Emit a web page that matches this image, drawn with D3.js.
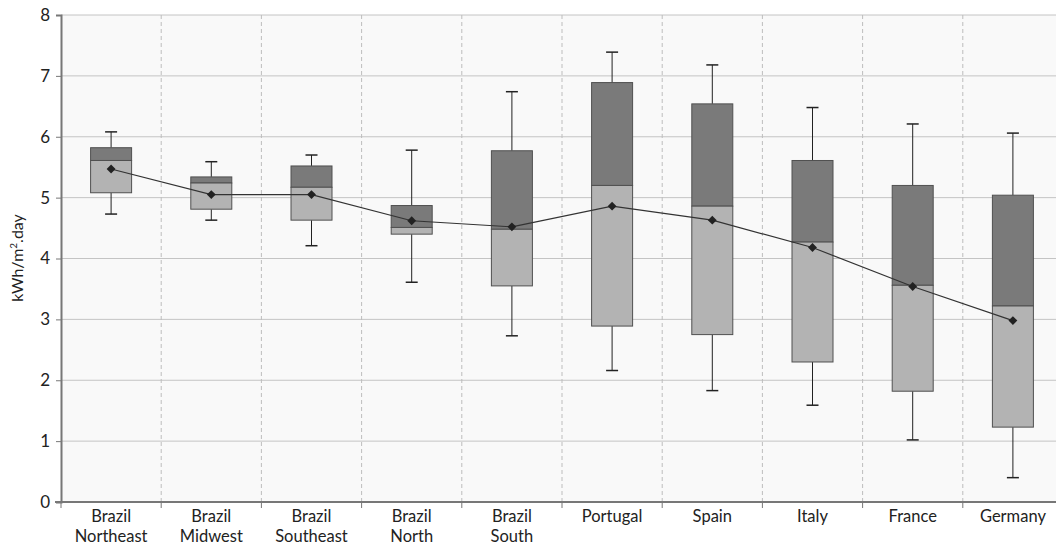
<!DOCTYPE html>
<html><head><meta charset="utf-8">
<script src="https://cdn.jsdelivr.net/npm/d3@7"></script>
<style>body{margin:0;background:#fff;}svg{display:block;font-family:Lato,"Open Sans",sans-serif;}</style>
</head><body><svg id="c" width="1056" height="546"></svg>
<script>
const categories = ["Brazil\nNortheast","Brazil\nMidwest","Brazil\nSoutheast","Brazil\nNorth","Brazil\nSouth","Portugal","Spain","Italy","France","Germany"];
const whiskerLow = [4.73,4.63,4.21,3.61,2.73,2.16,1.83,1.59,1.02,0.40];
const q1 = [5.08,4.81,4.63,4.40,3.55,2.89,2.75,2.30,1.82,1.23];
const median = [5.61,5.24,5.17,4.51,4.48,5.20,4.86,4.27,3.56,3.22];
const q3 = [5.82,5.34,5.52,4.87,5.77,6.89,6.54,5.61,5.20,5.04];
const whiskerHigh = [6.08,5.59,5.70,5.78,6.74,7.39,7.18,6.48,6.21,6.06];
const means = [5.47,5.05,5.05,4.62,4.52,4.86,4.63,4.18,3.54,2.98];
const yTicks = [0,1,2,3,4,5,6,7,8];

(function(){
const svg = d3.select("#c");
const pL = 61, pR = 1063, pT = 15, pB = 502;
const x = d3.scaleBand().domain(categories).range([pL, pR]).padding(0);
const y = d3.scaleLinear().domain([0, 8]).range([pB, pT]);
const bw = 41;

svg.append("rect").attr("x", pL).attr("y", pT).attr("width", 1056-pL).attr("height", pB-pT).attr("fill", "#f9f9f9");

svg.append("g").selectAll("line").data(yTicks.filter(d=>d>0)).join("line")
  .attr("x1", pL).attr("x2", 1056).attr("y1", d=>y(d)).attr("y2", d=>y(d))
  .attr("stroke", "#c4c4c4").attr("stroke-width", 1);
svg.append("g").selectAll("line").data(categories.slice(1)).join("line")
  .attr("x1", d=>x(d)).attr("x2", d=>x(d)).attr("y1", pT).attr("y2", pB)
  .attr("stroke", "#bdbdbd").attr("stroke-dasharray", "4,3").attr("stroke-width", 1);

const g = svg.append("g").selectAll("g").data(categories).join("g");
const cx = d => x(d) + x.bandwidth()/2;
g.append("line").attr("x1", cx).attr("x2", cx).attr("y1", (d,i)=>y(whiskerHigh[i])).attr("y2", (d,i)=>y(q3[i])).attr("stroke","#222");
g.append("line").attr("x1", cx).attr("x2", cx).attr("y1", (d,i)=>y(q1[i])).attr("y2", (d,i)=>y(whiskerLow[i])).attr("stroke","#222");
g.append("line").attr("x1", d=>cx(d)-6).attr("x2", d=>cx(d)+6).attr("y1", (d,i)=>y(whiskerHigh[i])).attr("y2", (d,i)=>y(whiskerHigh[i])).attr("stroke","#222").attr("stroke-width",1.5);
g.append("line").attr("x1", d=>cx(d)-6).attr("x2", d=>cx(d)+6).attr("y1", (d,i)=>y(whiskerLow[i])).attr("y2", (d,i)=>y(whiskerLow[i])).attr("stroke","#222").attr("stroke-width",1.5);
g.append("rect").attr("x", d=>cx(d)-bw/2).attr("width", bw)
  .attr("y", (d,i)=>y(q3[i])).attr("height", (d,i)=>y(median[i])-y(q3[i]))
  .attr("fill","#7a7a7a").attr("stroke","#505050").attr("stroke-width",1);
g.append("rect").attr("x", d=>cx(d)-bw/2).attr("width", bw)
  .attr("y", (d,i)=>y(median[i])).attr("height", (d,i)=>y(q1[i])-y(median[i]))
  .attr("fill","#b3b3b3").attr("stroke","#505050").attr("stroke-width",1);

svg.append("path").datum(means).attr("fill","none").attr("stroke","#333").attr("stroke-width",1.2)
  .attr("d", d3.line().x((d,i)=>cx(categories[i])).y(d=>y(d)));
svg.append("g").selectAll("path").data(means).join("path")
  .attr("d", d3.symbol().type(d3.symbolDiamond2).size(50))
  .attr("transform", (d,i)=>`translate(${cx(categories[i])},${y(d)})`)
  .attr("fill","#222");

const ya = svg.append("g").attr("transform", `translate(${pL},0)`)
  .call(d3.axisLeft(y).tickValues(yTicks).tickSize(5).tickPadding(6).tickFormat(d3.format("d")));
ya.attr("font-family", null);
ya.select(".domain").attr("stroke","#777").attr("stroke-width",2);
ya.selectAll(".tick line").attr("stroke","#777");
ya.selectAll("text").attr("font-size",17).attr("fill","#222");

const xa = svg.append("g").attr("transform", `translate(0,${pB})`);
xa.append("line").attr("x1", pL-6).attr("x2", 1056).attr("y1",0).attr("y2",0).attr("stroke","#777").attr("stroke-width",2);
xa.selectAll("line.t").data(categories.concat(["end"])).join("line").attr("class","t")
  .attr("x1",(d,i)=>pL + i*x.bandwidth()).attr("x2",(d,i)=>pL + i*x.bandwidth())
  .attr("y1",0).attr("y2",6).attr("stroke","#777");
const lab = xa.selectAll("text").data(categories).join("text")
  .attr("text-anchor","middle").attr("font-size",16.5).attr("fill","#222")
  .attr("transform", d=>`translate(${cx(d)},0)`);
lab.selectAll("tspan").data(d=>d.split("\n")).join("tspan")
  .attr("x",0).attr("y",(d,i)=>20+i*20).text(d=>d);

svg.append("text").attr("transform","translate(23,258) rotate(-90)").attr("text-anchor","middle")
  .attr("font-size",16).attr("fill","#222")
  .html('kWh/m<tspan dy="-6" font-size="10">2</tspan><tspan dy="6">.day</tspan>');
})();
</script></body></html>
